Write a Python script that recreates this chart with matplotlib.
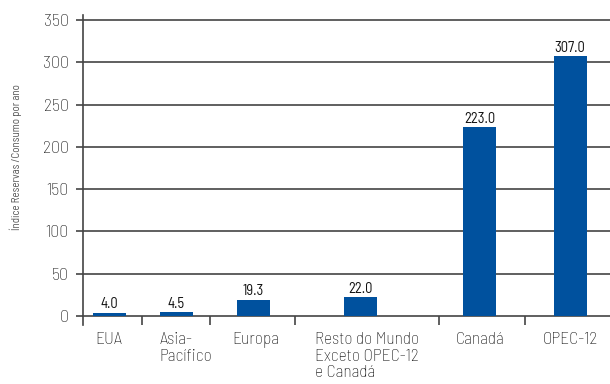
import matplotlib
matplotlib.use("Agg")
import matplotlib.pyplot as plt
from matplotlib.ticker import FixedLocator, NullFormatter

plt.rcParams['font.family'] = ['Barlow Semi Condensed', 'Roboto Condensed',
                               'IBM Plex Sans Condensed', 'DejaVu Sans']

categorias = ["EUA", "Asia-\nPacífico", "Europa",
              "Resto do Mundo\nExceto OPEC-12\ne Canadá", "Canadá", "OPEC-12"]
indice = [4.0, 4.5, 19.3, 22.0, 223.0, 307.0]
rotulos = ["4.0", "4.5", "19.3", "22.0", "223.0", "307.0"]
yticks = [0, 50, 100, 150, 200, 250, 300, 350]

# posicoes no eixo x (espacamento irregular): barras, nomes e divisorias
xbarras = [26.8, 93.8, 170.8, 277.8, 396.8, 487.3]
xnomes = [25.8, 103.3, 172.8, 284.0, 397.3, 487.8]
divisorias = [59.3, 126.8, 212.3, 355.8, 441.8]

azul = '#00519E'
cinza = '#444444'
texto = '#111111'

fig = plt.figure(figsize=(6.1, 3.84), dpi=100)
ax = fig.add_axes([82.7 / 610, 1 - 325 / 384, 1 - 82.7 / 610, 310 / 384])

ax.bar(xbarras, indice, width=33, color=azul, zorder=3)
for x, v, t in zip(xbarras, indice, rotulos):
    ax.text(x, v + 1.5, t, ha='center', va='bottom', fontsize=10.5,
            color='#111111', zorder=4)

ax.set_xlim(0, 527.3)
ax.set_ylim(-10.6, 356)

for y in yticks[1:]:
    ax.axhline(y, color=cinza, lw=1.2, zorder=1)

ax.set_yticks(yticks)
ax.tick_params(axis='y', direction='out', length=5, width=1.2, color=cinza,
               labelsize=12.8, labelcolor=texto, pad=5)
for lbl in ax.get_yticklabels():
    lbl.set_fontweight('light')

# eixo x sobre o zero com marcas nas divisorias
ax.spines['bottom'].set_position(('data', 0))
ax.spines['bottom'].set_color(cinza)
ax.spines['bottom'].set_linewidth(1.2)
ax.xaxis.set_major_locator(FixedLocator(divisorias))
ax.xaxis.set_major_formatter(NullFormatter())
ax.xaxis.set_minor_locator(FixedLocator(xnomes))
ax.set_xticklabels(categorias, minor=True)
ax.tick_params(axis='x', which='major', direction='out', length=6.5, width=1.2, color=cinza)
ax.tick_params(axis='x', which='minor', length=0, pad=11.5, labelsize=12.5, labelcolor=texto)
for lbl in ax.get_xticklabels(minor=True):
    lbl.set_linespacing(1.05)
    lbl.set_verticalalignment('top')
    lbl.set_multialignment('left')
    lbl.set_fontweight('light')

ax.spines['left'].set_color(cinza)
ax.spines['left'].set_linewidth(1.2)
ax.spines['top'].set_visible(False)
ax.spines['right'].set_visible(False)

fig.text(16 / 610, 1 - 157 / 384, "Índice Reservas /Consumo por ano", rotation=90,
         ha='center', va='center', fontsize=7.8, color='#555555')

fig.savefig("out.png", dpi=100)
